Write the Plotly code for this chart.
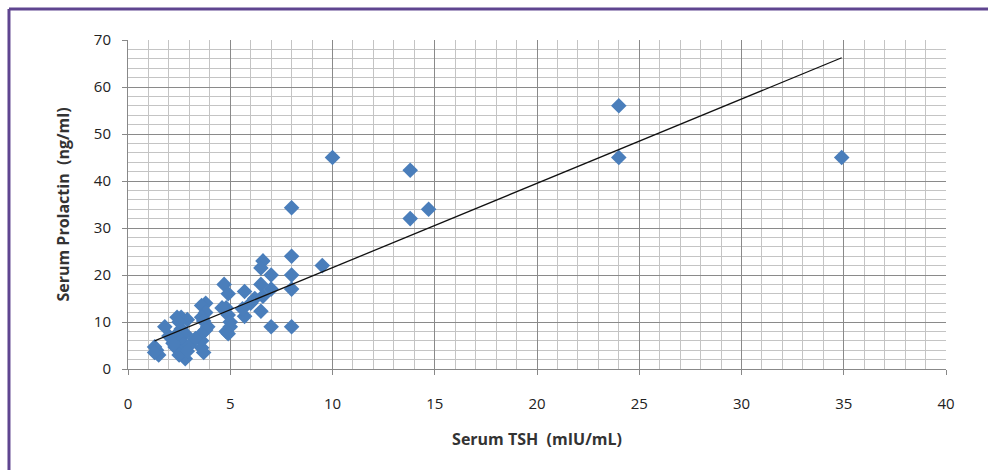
import numpy as np
import plotly.graph_objects as go

# Serum TSH (mIU/mL) vs Serum Prolactin (ng/ml)
tsh = [34.9, 24.0, 24.0, 10.0, 13.8, 13.8, 14.7, 9.5, 8.0, 8.0,
       8.0, 8.0, 8.0, 7.0, 6.6, 6.5, 7.0, 6.5, 7.0, 6.6,
       6.2, 6.5, 5.7, 5.7, 5.6, 6.0, 4.7, 4.9, 4.8, 4.9,
       5.0, 5.0, 4.8, 4.6, 3.8, 3.6, 3.8, 3.6, 3.7, 3.9,
       3.8, 3.6, 3.6, 3.6, 3.7, 2.6, 2.9, 2.4, 2.6, 2.8,
       2.3, 2.6, 2.7, 2.3, 2.6, 2.8, 2.0, 1.8, 1.3, 1.4,
       1.5, 2.5, 2.2, 3.0, 2.5, 1.3, 3.3, 2.9, 4.9]
prolactin = [45, 56, 45, 45, 42.3, 32, 34, 22, 34.3, 24,
             20, 17, 9, 9, 23, 21.5, 20, 18, 17, 15.5,
             15, 12.3, 16.5, 11.2, 12.8, 14, 18, 16, 13, 11.5,
             10, 9, 8, 13, 14, 13.5, 12, 11, 10.2, 9,
             8.3, 7.5, 6, 4.5, 3.5, 11, 10.5, 11, 8.5, 7.5,
             7, 6, 5.2, 4.7, 3.6, 2.2, 7, 9, 4.7, 4,
             3, 10, 5.5, 5, 3, 3.5, 6.5, 3.8, 7.5]

x_ticks = [0, 5, 10, 15, 20, 25, 30, 35, 40]
y_ticks = [0, 10, 20, 30, 40, 50, 60, 70]

slope, intercept = np.polyfit(tsh, prolactin, 1)
trend_x = [min(tsh), max(tsh)]
trend_y = [intercept + slope * v for v in trend_x]

fig = go.Figure()
fig.add_trace(go.Scatter(
    x=tsh, y=prolactin, mode="markers",
    marker=dict(symbol="diamond", size=12, color="#4a7ebb", line=dict(width=0)),
    showlegend=False, cliponaxis=False))
fig.add_trace(go.Scatter(
    x=trend_x, y=trend_y, mode="lines",
    line=dict(color="#111111", width=1.3), showlegend=False))

font_family = "Open Sans, Noto Sans, sans-serif"
fig.update_layout(
    width=988, height=470,
    margin=dict(l=128, r=42, t=40, b=101),
    paper_bgcolor="white", plot_bgcolor="white",
    font=dict(family=font_family, size=14, color="#222222"),
    shapes=[
        dict(type="line", xref="paper", yref="paper",
             x0=-0.1455, x1=1.06, y0=1.094, y1=1.094,
             line=dict(color="#5f4590", width=3)),
        dict(type="line", xref="paper", yref="paper",
             x0=-0.1455, x1=-0.1455, y0=1.094, y1=-0.32,
             line=dict(color="#5f4590", width=3)),
    ],
)
fig.update_xaxes(
    range=[0, 40], tickvals=x_ticks, ticktext=[str(v) for v in x_ticks],
    showgrid=True, gridcolor="#8a8a8a", gridwidth=1,
    minor=dict(dtick=1, showgrid=True, gridcolor="#c4c4c4", gridwidth=1, ticks=""),
    ticks="outside", ticklen=5, tickcolor="#888888",
    showline=True, linecolor="#888888", linewidth=1, mirror=False,
    zeroline=False, ticklabelstandoff=16,
    tickfont=dict(size=15, color="#222222"),
    title=dict(text="<b>Serum TSH  (mIU/mL)</b>", font=dict(size=16, color="#333333"), standoff=21),
)
fig.update_yaxes(
    range=[0, 70], tickvals=y_ticks, ticktext=[str(v) for v in y_ticks],
    showgrid=True, gridcolor="#8a8a8a", gridwidth=1,
    minor=dict(dtick=2, showgrid=True, gridcolor="#c4c4c4", gridwidth=1, ticks=""),
    ticks="outside", ticklen=5, tickcolor="#888888",
    showline=True, linecolor="#888888", linewidth=1,
    zeroline=False, ticklabelstandoff=8,
    tickfont=dict(size=15, color="#222222"),
    title=dict(text="<b>Serum Prolactin  (ng/ml)</b>", font=dict(size=16, color="#333333"), standoff=20),
)

fig.write_html("out.html")
